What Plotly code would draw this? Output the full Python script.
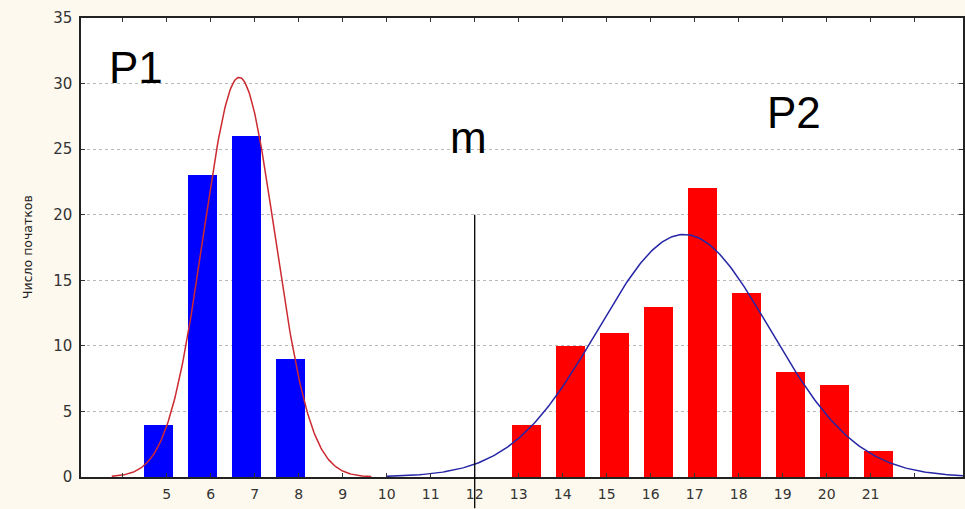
import numpy as np
import plotly.graph_objects as go

# histogram data
p1_x = [5, 6, 7, 8]
p1_counts = [4, 23, 26, 9]
p2_x = [13, 14, 15, 16, 17, 18, 19, 20, 21]
p2_counts = [4, 10, 11, 13, 22, 14, 8, 7, 2]
y_ticks = [0, 5, 10, 15, 20, 25, 30, 35]
x_ticks = list(range(4, 23))
x_labels = ["" if v in (4, 22) else str(v) for v in x_ticks]


def normal_fit(xs, counts, lo, hi):
    # fitted normal curve scaled to counts (bin width 1)
    vals = np.repeat(xs, counts)
    mu, sd = vals.mean(), vals.std(ddof=1)
    t = np.linspace(lo, hi, 300)
    y = len(vals) / (sd * np.sqrt(2 * np.pi)) * np.exp(-0.5 * ((t - mu) / sd) ** 2)
    return t, y


fig = go.Figure()
fig.add_trace(go.Bar(x=p1_x, y=p1_counts, width=0.66, offset=-0.51,
                     marker=dict(color="#0000ff", line_width=0)))
fig.add_trace(go.Bar(x=p2_x, y=p2_counts, width=0.66, offset=-0.15,
                     marker=dict(color="#ff0000", line_width=0)))

t1, c1 = normal_fit(p1_x, p1_counts, 3.75, 9.65)
t2, c2 = normal_fit(p2_x, p2_counts, 10.0, 23.1)
fig.add_trace(go.Scatter(x=t1, y=c1, mode="lines", line=dict(color="#cc2a30", width=1.5)))
fig.add_trace(go.Scatter(x=t2, y=c2, mode="lines", line=dict(color="#2525a5", width=1.5)))

# vertical marker m
fig.add_annotation(x=12, y=20, xref="x", yref="y", ax=12, ay=-2.5, axref="x", ayref="y",
                   text="", showarrow=True, arrowhead=0, arrowwidth=1.3, arrowcolor="black")

big = dict(family="Liberation Sans, Arial", size=44, color="black")
fig.add_annotation(x=4.3, y=31.2, text="P1", showarrow=False, font=big)
fig.add_annotation(x=19.25, y=27.8, text="P2", showarrow=False, font=big)
fig.add_annotation(x=11.85, y=25.9, text="m", showarrow=False, font=big)

# y axis title
fig.add_annotation(x=-0.0714, y=0.5, xref="paper", yref="paper", text="Число початков",
                   textangle=-90, showarrow=False,
                   font=dict(family="DejaVu Sans", size=12.5, color="#222"))

fig.update_layout(
    width=965, height=509,
    margin=dict(l=81, r=2, t=18, b=32),
    paper_bgcolor="#fdf9ee", plot_bgcolor="white",
    showlegend=False, bargap=0,
    font=dict(family="DejaVu Sans", color="#333333"),
)
fig.update_xaxes(range=[3.05, 23.1], tickvals=x_ticks, ticktext=x_labels, automargin=False,
                 showgrid=False, zeroline=False, showline=True, linecolor="#222",
                 linewidth=1.5, mirror="ticks", ticks="inside", ticklen=4,
                 tickcolor="#333", tickfont=dict(size=14), ticklabelstandoff=3)
fig.update_yaxes(range=[0, 35], tickvals=y_ticks, showgrid=True, gridcolor="#b8b8b8",
                 griddash="dot", gridwidth=1, zeroline=False, showline=True, automargin=False,
                 linecolor="#222", linewidth=1.5, mirror="ticks", ticks="inside",
                 ticklen=4, tickcolor="#333", tickfont=dict(size=15), ticklabelstandoff=4)

fig.write_html("out.html", config={"displayModeBar": False},
               post_script="document.body.style.margin='0';")
